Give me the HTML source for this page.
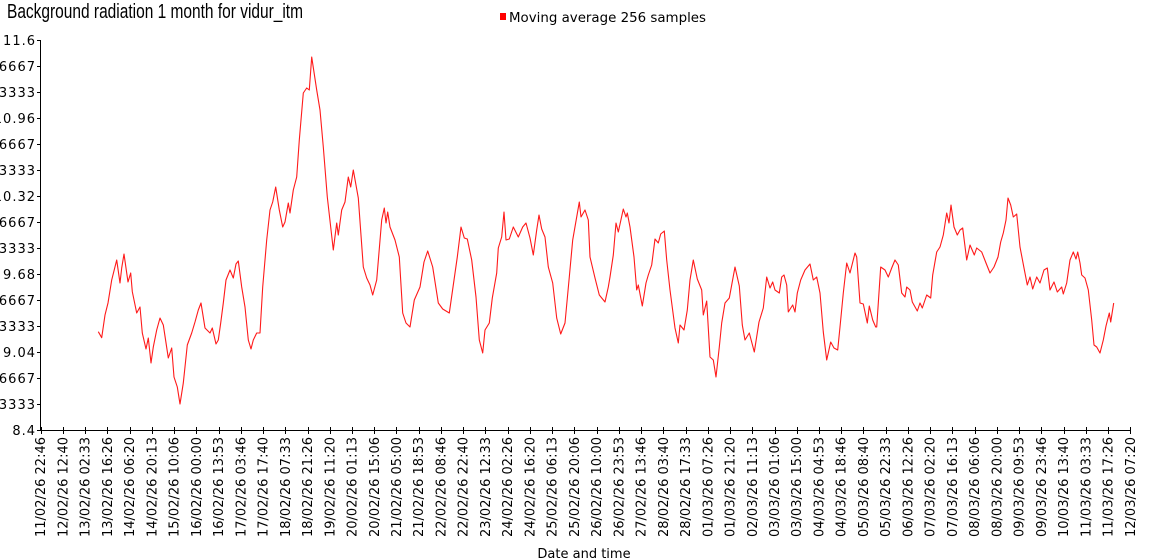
<!DOCTYPE html>
<html><head><meta charset="utf-8"><style>
html,body{margin:0;padding:0;background:#fff;}
svg{display:block;}
text{font-family:"DejaVu Sans","Liberation Sans",sans-serif;fill:#000;}
</style></head><body>
<svg width="1150" height="560" viewBox="0 0 1150 560" xmlns="http://www.w3.org/2000/svg">
<text x="7" y="18" font-size="20" textLength="296" lengthAdjust="spacingAndGlyphs" style="font-family:'Liberation Sans',sans-serif">Background radiation 1 month for vidur_itm</text>
<rect x="500" y="13" width="6" height="7" fill="#f00"/>
<text x="509" y="22" font-size="13" textLength="197" lengthAdjust="spacingAndGlyphs">Moving average 256 samples</text>
<g font-size="13" text-anchor="end" letter-spacing="1">
<text x="36" y="45">11.6</text>
<text x="36" y="71">11.386666666667</text>
<text x="36" y="97">11.173333333333</text>
<text x="36" y="123">10.96</text>
<text x="36" y="149">10.746666666667</text>
<text x="36" y="175">10.533333333333</text>
<text x="36" y="201">10.32</text>
<text x="36" y="227">10.106666666667</text>
<text x="36" y="253">9.893333333333</text>
<text x="36" y="279">9.68</text>
<text x="36" y="305">9.466666666667</text>
<text x="36" y="331">9.253333333333</text>
<text x="36" y="357">9.04</text>
<text x="36" y="383">8.826666666667</text>
<text x="36" y="409">8.613333333333</text>
<text x="36" y="435">8.4</text>
</g>
<g stroke="#000" stroke-width="1" fill="none">
<path d="M40.5 40 V430.5 H1131"/>
<path d="M37 40.5h4M37 66.5h4M37 92.5h4M37 118.5h4M37 144.5h4M37 170.5h4M37 196.5h4M37 222.5h4M37 248.5h4M37 274.5h4M37 300.5h4M37 326.5h4M37 352.5h4M37 378.5h4M37 404.5h4M37 430.5h4"/>
<path id="xt" d=""/>
</g>
<g id="xl" font-size="13" text-anchor="end"></g>
<polyline fill="none" stroke="#ff1a1a" stroke-width="1.1" stroke-linejoin="round" points="98.3,331.7 101.7,337.7 105,315 108,303 111.7,280 116.7,260 120,283 121.7,268 124,254 128,282 130.7,273 132.3,291.7 136.7,313 140,307 142.3,333 146,349 148.3,338 151,363 153.3,347 156.7,330 160,318 163.3,325 168.3,358 171.7,348 174,377 177.3,387 180,404 183.3,383 187.3,345 191.7,333 195,322 198.3,310 201,303 205,328 210,333 212.3,328 216,344 218.3,340 220.7,323 223.3,303 226,280 230,270 233.3,278 236,264 238.3,261 241.7,287 245,307 248.3,340 251,349 253.3,340 256.7,333 260,333 262.7,287 266.7,240 270,210 272.7,202 275.7,187 279.3,210 282.7,227 285,222 288.3,203 290,213 293.3,190 296.7,177 299.3,140 303.3,93 306.7,88 309.3,90 311.7,57 316.7,90 320,110 323.3,147 327.3,197 333.3,250 336.7,223 338.3,235 341.7,210 345,202 348.3,177 350.7,187 353.3,170 358.3,198 363.3,267 366.7,278 370,285 372.7,295 376.7,280 381.7,220 384.3,208 386,223 387.7,212 390,227 395,240 399.3,257 402.7,313 406,323 410,327 414.3,300 420,287 424,262 427.7,251 432.7,267 438.3,303 442.7,309 449.3,313 453.3,285 457.3,257 461,227 464.3,238 467.3,239 471.7,260 476,297 479.3,340 482.7,353 485,330 489.3,323 492.3,298 496.7,273 498.3,248 501.7,237 504,212 506,240 509.3,239 513.3,227 518.3,237 522.7,227 526,223 530,238 533.3,255 536.7,230 539,215 541.7,229 545,237 548.3,267 552.7,283 556.7,318 560.7,334 565,323 569.3,277 572.7,240 576.7,217 579.3,202 581,217 585,210 588.3,220 590,257 595,278 599.3,295 605,302 608.3,287 610,277 613.3,255 616,223 618.3,232 623.3,209 626,217 627.3,213 630,227 634,257 636.7,290 638.3,285 642.3,306 646,283 648.3,275 651.7,265 655,239 658.3,243 660.7,234 664.3,231 666.7,260 670,290 675,328 678.3,343 680,325 684,330 687.3,310 690,280 693.3,260 697.3,279 701.7,290 703.3,315 706.7,301 710,357 713.3,360 716,377 719.3,347 721.7,323 725,303 729.3,298 731.7,285 735,267 739.3,286 742.3,325 745,340 749.3,333 754.3,352 759,322 763.3,308 766.7,277 770,288 772.7,282 775,290 779.3,293 781.7,277 784,275 786.7,285 788.3,312 792.7,305 795,312 797.3,293 800.7,280 805,270 810,264 813.3,280 816.7,277 820,293 823.3,332 826.7,360 830.7,342 834,348 837.7,350 840,327 843.3,293 846.7,263 850,273 855,253 856.7,257 860,303 863.3,304 867.3,323 869.3,306 872.7,320 875.7,327 876.7,327 880.7,267 885,270 888.3,277 891.7,268 895,260 898.3,265 901.7,293 905,297 906.7,287 910,290 912.3,302 917.3,311 920,303 922.3,308 926.7,295 930.7,298 932.7,275 936.7,252 940,247 943.3,235 946.7,213 949,223 951,205 954,227 957.3,235 960,230 962.7,228 966.7,260 970,245 974.3,255 976.7,248 981.7,252 986,263 990,273 994,267 998,257 1000.7,242 1003.3,233 1006,220 1008,198 1010.7,205 1013.3,217 1016.7,214 1020,247 1024,268 1027.3,285 1030,277 1032.7,289 1036.7,277 1040,283 1044,270 1047.3,268 1050,290 1054,282 1057.3,292 1061.7,287 1063.3,294 1066.7,283 1070,260 1073.3,252 1076,259 1077.7,252 1080,263 1081.7,275 1085,278 1088.3,290 1091.7,320 1094,345 1096.7,347 1100,353 1103.3,340 1106,326 1109.3,313 1110.7,322 1113.7,303"/>
<text x="584" y="558" font-size="13" text-anchor="middle">Date and time</text>
</svg>
<script>
(function(){
var labels=["11/02/26 22:46","12/02/26 12:40","13/02/26 02:33","13/02/26 16:26","14/02/26 06:20","14/02/26 20:13","15/02/26 10:06","16/02/26 00:00","16/02/26 13:53","17/02/26 03:46","17/02/26 17:40","18/02/26 07:33","18/02/26 21:26","19/02/26 11:20","20/02/26 01:13","20/02/26 15:06","21/02/26 05:00","21/02/26 18:53","22/02/26 08:46","22/02/26 22:40","23/02/26 12:33","24/02/26 02:26","24/02/26 16:20","25/02/26 06:13","25/02/26 20:06","26/02/26 10:00","26/02/26 23:53","27/02/26 13:46","28/02/26 03:40","28/02/26 17:33","01/03/26 07:26","01/03/26 21:20","02/03/26 11:13","03/03/26 01:06","03/03/26 15:00","04/03/26 04:53","04/03/26 18:46","05/03/26 08:40","05/03/26 22:33","06/03/26 12:26","07/03/26 02:20","07/03/26 16:13","08/03/26 06:06","08/03/26 20:00","09/03/26 09:53","09/03/26 23:46","10/03/26 13:40","11/03/26 03:33","11/03/26 17:26","12/03/26 07:20"];
var ns="http://www.w3.org/2000/svg",g=document.getElementById("xl"),d="";
for(var i=0;i<labels.length;i++){
 var x=40.7+i*(1130.3-40.7)/49, xr=Math.round(x)+0.5;
 d+="M"+xr+" 427V434";
 var t=document.createElementNS(ns,"text");
 t.setAttribute("transform","translate("+(x+4.5)+",437) rotate(-90)");
 t.textContent=labels[i]; g.appendChild(t);
}
document.getElementById("xt").setAttribute("d",d);
})();
</script>
</body></html>
